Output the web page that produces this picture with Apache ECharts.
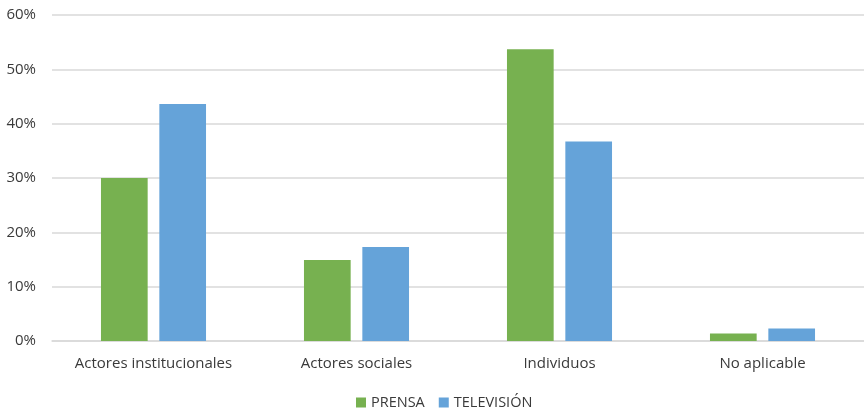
<!DOCTYPE html>
<html><head><meta charset="utf-8">
<script src="https://cdn.jsdelivr.net/npm/echarts@6/dist/echarts.min.js"></script>
<style>html,body{margin:0;padding:0;background:#fff}#c{width:864px;height:409px}</style>
</head><body><div id="c"></div>
<script>
const categories = ['Actores institucionales', 'Actores sociales', 'Individuos', 'No aplicable'];
const prensa = [30.0, 14.9, 53.7, 1.4];
const television = [43.6, 17.3, 36.7, 2.3];
const seriesNames = ['PRENSA', 'TELEVISIÓN'];

const chart = echarts.init(document.getElementById('c'));
chart.setOption({
  animation: false,
  textStyle: { fontFamily: 'Open Sans, Liberation Sans, sans-serif' },
  grid: { left: 52, width: 817, top: 15, bottom: 68 },
  legend: {
    data: seriesNames, top: 390, left: 351, icon: 'rect', itemWidth: 10, itemHeight: 10, itemGap: 14,
    textStyle: { color: '#3a3a3a', fontSize: 14.5 }
  },
  xAxis: {
    type: 'category', data: categories,
    axisLine: { lineStyle: { color: '#d9d9d9', width: 1.5 } },
    axisTick: { show: false },
    axisLabel: { color: '#3a3a3a', fontSize: 15, margin: 15, interval: 0 }
  },
  yAxis: {
    type: 'value', min: 0, max: 60, interval: 10,
    axisLabel: { color: '#3a3a3a', fontSize: 15, formatter: '{value}%', margin: 16 },
    splitLine: { lineStyle: { color: '#d9d9d9', width: 1.5 } },
    axisLine: { show: false }, axisTick: { show: false }
  },
  series: [
    { name: seriesNames[0], type: 'bar', data: prensa, barWidth: '23%', barGap: '25%', itemStyle: { color: '#77b150' } },
    { name: seriesNames[1], type: 'bar', data: television, barWidth: '23%', itemStyle: { color: '#65a3d9' } }
  ]
});
</script></body></html>
